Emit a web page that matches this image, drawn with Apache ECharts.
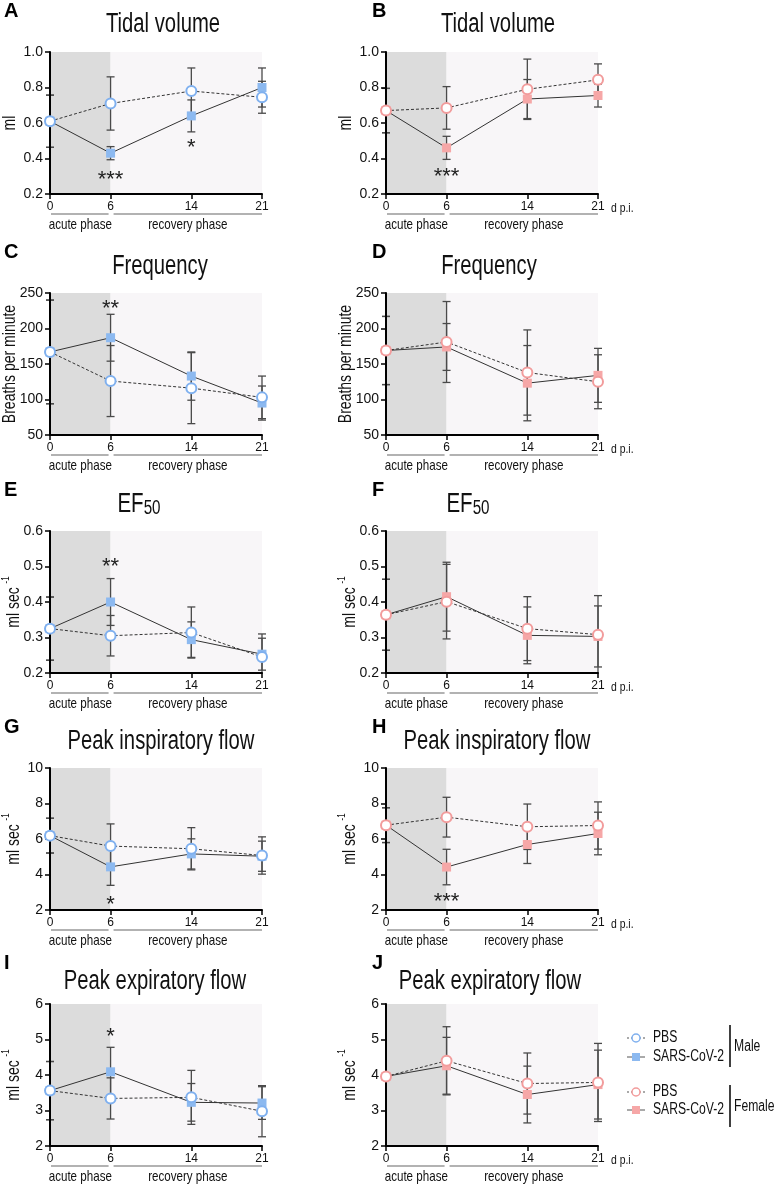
<!DOCTYPE html>
<html><head><meta charset="utf-8">
<script src="https://cdn.jsdelivr.net/npm/echarts@6/dist/echarts.min.js"></script>
<style>html,body{margin:0;padding:0;background:#fff}#c{width:777px;height:1186px}</style>
</head><body><div id="c"></div>
<script>
// ---------- DATA ----------
const days = [0, 6, 14, 21];
const xTicks = [0, 6, 14, 21];

// A: Tidal volume, male (ml)
const tidalMalePBS = [0.61, 0.71, 0.78, 0.745];
const tidalMalePBSErr = [0.147, 0.15, 0.13, 0.09];
const tidalMaleCoV = [0.61, 0.43, 0.64, 0.80];
const tidalMaleCoVErr = [0.147, 0.037, 0.09, 0.11];
// B: Tidal volume, female
const tidalFemalePBS = [0.67, 0.685, 0.79, 0.843];
const tidalFemalePBSErr = [0.125, 0.12, 0.17, 0.09];
const tidalFemaleCoV = [0.67, 0.46, 0.735, 0.755];
const tidalFemaleCoVErr = [0.125, 0.065, 0.11, 0.065];
// C: Frequency, male (breaths per minute)
const freqMalePBS = [167, 126, 116, 103];
const freqMalePBSErr = [73, 50, 50, 30];
const freqMaleCoV = [167, 187, 133, 95];
const freqMaleCoVErr = [73, 33, 34, 24];
// D: Frequency, female
const freqFemalePBS = [169, 181, 138, 125];
const freqFemalePBSErr = [48, 57, 60, 38];
const freqFemaleCoV = [169, 174, 123, 134];
const freqFemaleCoVErr = [48, 33, 53, 38];
// E: EF50, male (ml sec-1)
const ef50MalePBS = [0.325, 0.305, 0.314, 0.245];
const ef50MalePBSErr = [0.089, 0.057, 0.072, 0.065];
const ef50MaleCoV = [0.325, 0.40, 0.294, 0.253];
const ef50MaleCoVErr = [0.089, 0.066, 0.05, 0.045];
// F: EF50, female
const ef50FemalePBS = [0.364, 0.401, 0.325, 0.308];
const ef50FemalePBSErr = [0.10, 0.105, 0.09, 0.11];
const ef50FemaleCoV = [0.364, 0.415, 0.306, 0.303];
const ef50FemaleCoVErr = [0.10, 0.097, 0.08, 0.086];
// G: Peak inspiratory flow, male
const pifMalePBS = [6.19, 5.6, 5.45, 5.07];
const pifMalePBSErr = [0.98, 1.25, 1.19, 1.05];
const pifMaleCoV = [6.19, 4.43, 5.16, 5.03];
const pifMaleCoVErr = [0.98, 1.04, 0.85, 0.85];
// H: Peak inspiratory flow, female
const pifFemalePBS = [6.78, 7.23, 6.69, 6.76];
const pifFemalePBSErr = [0.98, 1.12, 1.28, 1.33];
const pifFemaleCoV = [6.78, 4.42, 5.69, 6.31];
const pifFemaleCoVErr = [0.98, 1.0, 1.07, 1.2];
// I: Peak expiratory flow, male
const pefMalePBS = [3.56, 3.34, 3.37, 2.98];
const pefMalePBSErr = [0.82, 0.58, 0.76, 0.72];
const pefMaleCoV = [3.56, 4.09, 3.23, 3.21];
const pefMaleCoVErr = [0.82, 0.69, 0.53, 0.46];
// J: Peak expiratory flow, female
const pefFemalePBS = [3.96, 4.40, 3.76, 3.79];
const pefFemalePBSErr = [0.08, 0.96, 0.86, 1.1];
const pefFemaleCoV = [3.96, 4.26, 3.45, 3.73];
const pefFemaleCoVErr = [0.08, 0.8, 0.8, 0.97];

// significance marks [day, value, text]
const sigA = [[6, 0.305, '***'], [14, 0.49, '*']];
const sigB = [[6, 0.327, '***']];
const sigC = [[6, 234, '**']];
const sigD = [];
const sigE = [[6, 0.514, '**']];
const sigF = [];
const sigG = [[6, 2.56, '*']];
const sigH = [[6, 2.75, '***']];
const sigI = [[6, 5.2, '*']];
const sigJ = [];

const phaseLabels = ['acute phase', 'recovery phase'];
const legendGroups = ['Male', 'Female'];
const legendItems = ['PBS', 'SARS-CoV-2'];

// ---------- STYLE / LAYOUT ----------
const FONT = "'Liberation Sans',Arial,sans-serif";
const BLUE = '#8cb9f0', BLUE_EDGE = '#7fb0ef';
const PINK = '#f6a7a7', PINK_EDGE = '#f29c9c';
const colLeft = [50, 386];
const rowTop = [52, 293, 531, 768, 1004];
const GW = 212, GH = 142;
const titleY = [25, 267, 507, 742, 982];

const panels = [
  {L:'A', r:0, c:0, title:'Tidal volume', tx:163, yName:'ml', min:0.2, max:1.0, step:0.2, dec:1, pbs:tidalMalePBS, pbsE:tidalMalePBSErr, cov:tidalMaleCoV, covE:tidalMaleCoVErr, sig:sigA, male:true},
  {L:'B', r:0, c:1, title:'Tidal volume', tx:498, yName:'ml', min:0.2, max:1.0, step:0.2, dec:1, pbs:tidalFemalePBS, pbsE:tidalFemalePBSErr, cov:tidalFemaleCoV, covE:tidalFemaleCoVErr, sig:sigB, male:false},
  {L:'C', r:1, c:0, title:'Frequency', tx:160, yName:'Breaths per minute', min:50, max:250, step:50, dec:0, pbs:freqMalePBS, pbsE:freqMalePBSErr, cov:freqMaleCoV, covE:freqMaleCoVErr, sig:sigC, male:true},
  {L:'D', r:1, c:1, title:'Frequency', tx:489, yName:'Breaths per minute', min:50, max:250, step:50, dec:0, pbs:freqFemalePBS, pbsE:freqFemalePBSErr, cov:freqFemaleCoV, covE:freqFemaleCoVErr, sig:sigD, male:false},
  {L:'E', r:2, c:0, title:'EF50', tx:139, yName:'sup', min:0.2, max:0.6, step:0.1, dec:1, pbs:ef50MalePBS, pbsE:ef50MalePBSErr, cov:ef50MaleCoV, covE:ef50MaleCoVErr, sig:sigE, male:true},
  {L:'F', r:2, c:1, title:'EF50', tx:468, yName:'sup', min:0.2, max:0.6, step:0.1, dec:1, pbs:ef50FemalePBS, pbsE:ef50FemalePBSErr, cov:ef50FemaleCoV, covE:ef50FemaleCoVErr, sig:sigF, male:false},
  {L:'G', r:3, c:0, title:'Peak inspiratory flow', tx:161, yName:'sup', min:2, max:10, step:2, dec:0, pbs:pifMalePBS, pbsE:pifMalePBSErr, cov:pifMaleCoV, covE:pifMaleCoVErr, sig:sigG, male:true},
  {L:'H', r:3, c:1, title:'Peak inspiratory flow', tx:497, yName:'sup', min:2, max:10, step:2, dec:0, pbs:pifFemalePBS, pbsE:pifFemalePBSErr, cov:pifFemaleCoV, covE:pifFemaleCoVErr, sig:sigH, male:false},
  {L:'I', r:4, c:0, title:'Peak expiratory flow', tx:155, yName:'sup', min:2, max:6, step:1, dec:0, pbs:pefMalePBS, pbsE:pefMalePBSErr, cov:pefMaleCoV, covE:pefMaleCoVErr, sig:sigI, male:true},
  {L:'J', r:4, c:1, title:'Peak expiratory flow', tx:490, yName:'sup', min:2, max:6, step:1, dec:0, pbs:pefFemalePBS, pbsE:pefFemalePBSErr, cov:pefFemaleCoV, covE:pefFemaleCoVErr, sig:sigJ, male:false}
];

function errRender(params, api) {
  const x = api.value(0), m = api.value(1), e = api.value(2);
  const cs = params.coordSys;
  const pt = api.coord([x, m + e]), pb = api.coord([x, m - e]);
  const yTop = Math.max(pt[1], cs.y), yBot = Math.min(pb[1], cs.y + cs.height);
  const hw = 4;
  const st = {stroke: '#4a4a4a', lineWidth: 1.3};
  const ch = [{type: 'line', shape: {x1: pt[0], y1: yTop, x2: pt[0], y2: yBot}, style: st}];
  if (pt[1] >= cs.y) ch.push({type: 'line', shape: {x1: pt[0] - hw, y1: pt[1], x2: pt[0] + hw, y2: pt[1]}, style: st});
  if (pb[1] <= cs.y + cs.height) ch.push({type: 'line', shape: {x1: pb[0] - hw, y1: pb[1], x2: pb[0] + hw, y2: pb[1]}, style: st});
  return {type: 'group', children: ch};
}

const grid = [], xAxis = [], yAxis = [], series = [];
panels.forEach((p, i) => {
  grid.push({left: colLeft[p.c], top: rowTop[p.r], width: GW, height: GH, outerBoundsMode: 'none', containLabel: false});
  xAxis.push({
    type: 'value', gridIndex: i, min: 0, max: 21, z: 2,
    axisLine: {lineStyle: {color: '#000', width: 2}},
    axisTick: {show: true, length: 5, customValues: xTicks, lineStyle: {color: '#000', width: 1.5}},
    axisLabel: {customValues: xTicks, margin: 7, fontFamily: FONT, fontSize: 12, color: '#111'},
    splitLine: {show: false}
  });
  yAxis.push({
    type: 'value', gridIndex: i, min: p.min, max: p.max, interval: p.step, z: 2,
    axisLine: {show: true, lineStyle: {color: '#000', width: 2}},
    axisTick: {show: true, length: 5, lineStyle: {color: '#000', width: 1.5}},
    axisLabel: {margin: 7, fontFamily: FONT, fontSize: 14, color: '#111', formatter: v => v.toFixed(p.dec)},
    splitLine: {show: false}
  });
  const col = p.male ? BLUE : PINK, edge = p.male ? BLUE_EDGE : PINK_EDGE;
  series.push({
    type: 'line', xAxisIndex: i, yAxisIndex: i, data: [], z: 0, silent: true,
    markArea: {silent: true, label: {show: false}, data: [
      [{xAxis: 0, itemStyle: {color: '#dcdcdc', opacity: 1}}, {xAxis: 6}],
      [{xAxis: 6, itemStyle: {color: '#f8f6f8', opacity: 1}}, {xAxis: 21}]
    ]}
  });
  series.push({type: 'custom', xAxisIndex: i, yAxisIndex: i, z: 1, silent: true, renderItem: errRender,
    encode: {x: 0, y: 1}, data: days.map((d, k) => [d, p.cov[k], p.covE[k]])});
  series.push({type: 'custom', xAxisIndex: i, yAxisIndex: i, z: 1, silent: true, renderItem: errRender,
    encode: {x: 0, y: 1}, data: days.map((d, k) => [d, p.pbs[k], p.pbsE[k]])});
  series.push({
    type: 'line', xAxisIndex: i, yAxisIndex: i, z: 3, clip: false, silent: true,
    data: days.map((d, k) => [d, p.cov[k]]),
    symbol: 'rect', symbolSize: 9,
    lineStyle: {color: '#333', width: 1},
    itemStyle: {color: col, borderWidth: 0}
  });
  series.push({
    type: 'line', xAxisIndex: i, yAxisIndex: i, z: 4, clip: false, silent: true,
    data: days.map((d, k) => [d, p.pbs[k]]),
    symbol: 'circle', symbolSize: 10,
    lineStyle: {color: '#333', width: 1, type: [3, 2]},
    itemStyle: {color: '#fff', borderColor: edge, borderWidth: 2}
  });
});

const chart = echarts.init(document.getElementById('c'), null, {renderer: 'canvas'});
chart.setOption({animation: false, backgroundColor: '#fff', grid, xAxis, yAxis, series});

// ---------- annotations ----------
const g = [];
function txt(x, y, text, size, extra, sx, rot) {
  g.push({type: 'text', x, y, z: 10, silent: true, scaleX: sx == null ? 0.8 : sx, rotation: rot || 0,
    style: Object.assign({text, fontFamily: FONT, fontSize: size, fill: '#111', textAlign: 'center', textVerticalAlign: 'middle'}, extra || {})});
}
function ln(x1, y1, x2, y2, stroke, w, dash) {
  g.push({type: 'line', z: 10, silent: true, shape: {x1, y1, x2, y2}, style: {stroke, lineWidth: w, lineDash: dash || null}});
}
panels.forEach((p, i) => {
  const px = v => chart.convertToPixel({gridIndex: i}, v);
  const p0 = px([0, p.min]), p6 = px([6, p.min]), p21 = px([21, p.min]), pTop = px([0, p.max]);
  const base = p0[1];
  // panel letter
  txt(p.c === 0 ? 4 : 372, rowTop[p.r] - 41, p.L, 20, {fontWeight: 'bold', textAlign: 'left', fill: '#000'}, 1);
  // title
  if (p.title === 'EF50') {
    g.push({type: 'text', x: p.tx, y: titleY[p.r] + 11, z: 10, silent: true, scaleX: 0.76, style: {
      text: '{a|EF}{b|50}', textAlign: 'center', textVerticalAlign: 'bottom',
      rich: {a: {fontFamily: FONT, fontSize: 27, fill: '#111', verticalAlign: 'bottom'}, b: {fontFamily: FONT, fontSize: 20, fill: '#111', verticalAlign: 'bottom'}}}});
  } else {
    txt(p.tx, titleY[p.r], p.title, 27, {}, 0.75);
  }
  // y axis name (rotated)
  const nx = p0[0] - 40, ny = (p0[1] + pTop[1]) / 2;
  if (p.yName === 'sup') {
    g.push({type: 'text', x: nx + 2, y: ny, z: 10, silent: true, scaleX: 0.8, rotation: Math.PI / 2, style: {
      text: '{a|ml sec }{s|-1}', textAlign: 'center', textVerticalAlign: 'middle',
      rich: {a: {fontFamily: FONT, fontSize: 17.5, fill: '#111', verticalAlign: 'bottom', lineHeight: 22}, s: {fontFamily: FONT, fontSize: 10, fill: '#111', verticalAlign: 'top', lineHeight: 22}}}});
  } else {
    txt(nx, ny, p.yName, 17.5, {}, 0.8, Math.PI / 2);
  }
  // phase brackets
  ln(p0[0] + 1, base + 20, p6[0] - 2, base + 20, '#999', 1.5);
  ln(p6[0] + 3, base + 20, p21[0], base + 20, '#999', 1.5);
  txt((p0[0] + p6[0]) / 2, base + 31, phaseLabels[0], 14.5);
  txt((p6[0] + 3 + p21[0]) / 2, base + 31, phaseLabels[1], 14.5);
  if (p.c === 1) txt(p21[0] + 13, base + 14, 'd p.i.', 13, {textAlign: 'left'});
  // significance
  p.sig.forEach(s => {
    const q = px([s[0], s[1]]);
    txt(q[0], q[1] + 5, s[2], 22, {fill: '#222'}, 1);
  });
});
// legend
const legRows = [[1038, 1057, 1025, 1067, 1047, BLUE, BLUE_EDGE], [1092, 1110, 1085, 1127, 1107, PINK, PINK_EDGE]];
legRows.forEach((r, k) => {
  ln(627, r[0], 645, r[0], '#555', 1, [2, 2]);
  g.push({type: 'circle', z: 11, silent: true, shape: {cx: 636, cy: r[0], r: 4}, style: {fill: '#fff', stroke: r[6], lineWidth: 1.5}});
  txt(653, r[0], legendItems[0], 16, {textAlign: 'left'}, 0.76);
  ln(627, r[1], 645, r[1], '#555', 1);
  g.push({type: 'rect', z: 11, silent: true, shape: {x: 632, y: r[1] - 4, width: 8, height: 8}, style: {fill: r[5]}});
  txt(653, r[1], legendItems[1], 16, {textAlign: 'left'}, 0.76);
  ln(730, r[2], 730, r[3], '#000', 1.5);
  txt(734, r[4], legendGroups[k], 16, {textAlign: 'left'}, 0.76);
});
chart.setOption({graphic: g});
</script>
</body></html>
